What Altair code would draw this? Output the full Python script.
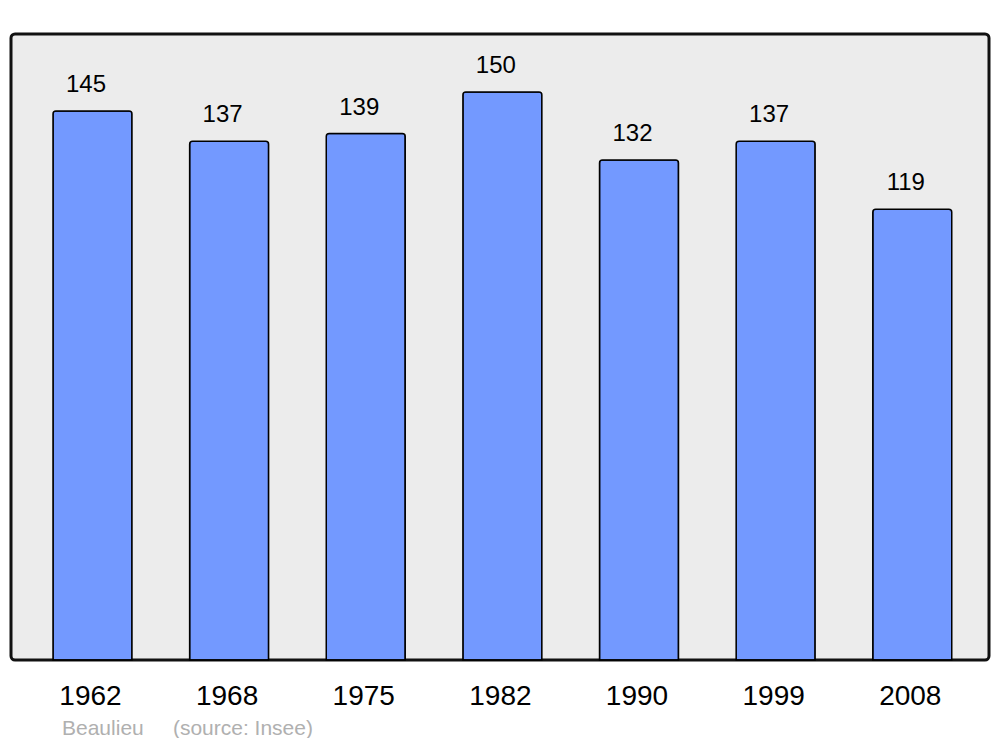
import altair as alt
import pandas as pd

years = ["1962", "1968", "1975", "1982", "1990", "1999", "2008"]
population = [145, 137, 139, 150, 132, 137, 119]
caption = "Beaulieu\u00a0\u00a0\u00a0\u00a0\u00a0(source: Insee)"

df = pd.DataFrame({"year": years, "pop": population})

x = alt.X("year:N", sort=years, title=None,
          scale=alt.Scale(paddingInner=0.422, paddingOuter=0.29, align=0.53),
          axis=alt.Axis(labelAngle=0, ticks=False, domain=False, labelFontSize=28,
                        labelFont="Liberation Sans", labelColor="#000",
                        labelBaseline="alphabetic", labelPadding=44, labelOffset=-2,
                        grid=False))
y = alt.Y("pop:Q", scale=alt.Scale(domain=[0, 165.3], nice=False, zero=True), axis=None)

bars = alt.Chart(df).mark_bar(
    color="#7399ff", stroke="#000", strokeWidth=1.5,
    cornerRadiusTopLeft=3, cornerRadiusTopRight=3
).encode(x=x, y=y)

labels = alt.Chart(df).mark_text(
    fontSize=24, font="Liberation Sans", color="#000",
    baseline="alphabetic", dy=-19, dx=-6.5
).encode(x=x, y=y, text="pop:Q")

chart = alt.layer(bars, labels).properties(
    width=978, height=626,
    autosize=alt.AutoSizeParams(type="none"),
    padding={"left": 3, "top": 26, "right": 3, "bottom": 78},
    title=alt.TitleParams(text=caption, orient="bottom", anchor="start",
                          fontSize=21, font="Liberation Sans", fontWeight="normal",
                          color="#b0b0b0", dx=51, offset=8)
).configure_view(
    fill="#ececec", stroke="#111", strokeWidth=3, cornerRadius=4
)

chart.save("out.html", embed_options={"renderer": "svg", "actions": False})
